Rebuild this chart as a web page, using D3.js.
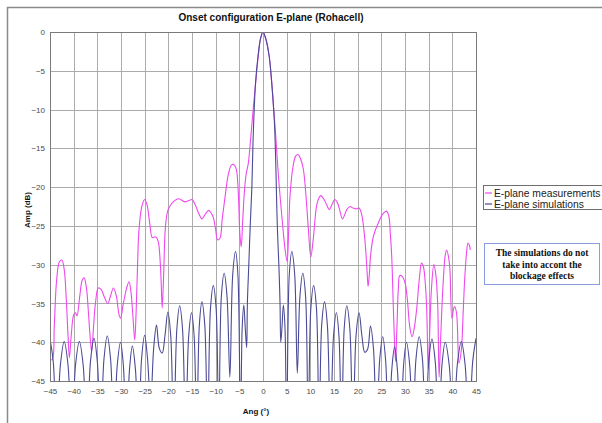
<!DOCTYPE html>
<html>
<head>
<meta charset="utf-8">
<script src="https://cdn.jsdelivr.net/npm/d3@7"></script>
<style>
  html, body { margin: 0; padding: 0; background: #fff; }
  svg { display: block; font-family: "Liberation Sans", Arial, sans-serif; }
</style>
</head>
<body>
<svg id="chart" width="602" height="423"></svg>
<script>
// Angle ticks (degrees) and amplitude ticks (dB)
const xTicks = [-45, -40, -35, -30, -25, -20, -15, -10, -5, 0, 5, 10, 15, 20, 25, 30, 35, 40, 45];
const yTicks = [0, -5, -10, -15, -20, -25, -30, -35, -40, -45];

// E-plane measurements: [angle (deg), amplitude (dB)]
const measurements = [
  [-45.0, -42.3], [-44.5, -42.2], [-44.1, -38], [-43.6, -32], [-43.0, -29.6], [-42.5, -29.4],
  [-42.0, -30.6], [-41.6, -34], [-41.2, -39], [-40.9, -42.0], [-40.5, -39], [-40.0, -36.5],
  [-39.6, -36.2], [-39.3, -36.6], [-38.7, -34], [-38.2, -32], [-37.8, -31.7], [-37.3, -33],
  [-36.9, -36], [-36.5, -39.5], [-36.2, -41.2], [-35.8, -38], [-35.4, -35], [-34.8, -33.0],
  [-34.2, -33.2], [-33.5, -34.2], [-32.8, -35.0], [-32.2, -34], [-31.6, -33.0], [-31.0, -34],
  [-30.4, -36.5], [-30.1, -36.9], [-29.5, -35], [-28.8, -33], [-28.3, -32.2], [-27.9, -33.5],
  [-27.5, -36.5], [-27.1, -39.7], [-26.8, -36], [-26.5, -30], [-26.2, -25.5], [-25.6, -22.5],
  [-25.0, -21.6], [-24.5, -22.3], [-23.9, -24.8], [-23.4, -26.5], [-22.9, -26.4], [-22.5, -26.5],
  [-22.1, -27.1], [-21.7, -29.8], [-21.5, -32.5], [-21.3, -35.6], [-21.0, -31.5], [-20.6, -25],
  [-20.1, -23.0], [-19.5, -22.3], [-18.8, -21.8], [-17.8, -21.5], [-16.5, -21.9], [-15.5, -21.7],
  [-15.0, -21.6], [-14.3, -22.3], [-13.5, -23.5], [-12.9, -24.1], [-12.2, -23.5], [-11.5, -23.0],
  [-11.0, -23.3], [-10.5, -23.9], [-10.0, -25.5], [-9.6, -26.8], [-9.1, -26.6], [-8.6, -24],
  [-8.0, -21.2], [-7.3, -18.3], [-6.6, -17.1], [-6.0, -17.2], [-5.6, -17.8], [-5.2, -21],
  [-4.9, -25.9], [-4.6, -27.7], [-4.3, -24.5], [-4.0, -21.2], [-3.6, -18.5], [-3.1, -16.9],
  [-2.5, -13.0], [-2.0, -9.5], [-1.5, -6.2], [-1.0, -3.1], [-0.5, -0.8], [0, 0],
  [0.6, -0.9], [1.3, -3.1], [1.8, -6.2], [2.3, -10.3], [2.6, -12.6], [3.3, -18.9],
  [3.8, -22.5], [4.3, -25.9], [4.7, -28.2], [5.1, -29.6], [5.4, -26], [5.7, -21.2],
  [6.3, -17.5], [6.9, -16.0], [7.4, -15.8], [7.9, -16.3], [8.5, -17.6], [9.0, -20.5],
  [9.55, -25.1], [10.1, -29.0], [10.6, -26.8], [11.3, -22.5], [11.8, -21.4], [12.2, -21.1],
  [12.7, -21.4], [13.4, -22.2], [14.0, -22.9], [14.6, -22.2], [15.2, -21.6], [15.7, -22.0],
  [16.1, -22.7], [16.8, -24.1], [17.3, -23.5], [17.7, -22.9], [18.4, -22.5], [19.0, -22.7],
  [19.6, -22.8], [20.3, -22.7], [20.7, -23.2], [21.0, -24.0], [21.4, -26], [21.7, -28.1],
  [22.0, -31], [22.2, -32.8], [22.5, -31], [22.7, -29.0], [23.3, -26.4], [24.3, -24.7],
  [25.4, -23.4], [26.1, -23.1], [26.6, -23.8], [26.9, -26], [27.2, -29.0], [27.6, -36.7],
  [28.0, -42.5], [28.3, -38], [28.6, -33], [28.9, -31.4], [29.4, -31.5], [30.0, -32.3],
  [30.5, -34.5], [31.0, -38.0], [31.5, -39.3], [32.0, -38], [32.5, -35.5], [33.0, -32],
  [33.5, -29.8], [33.9, -30.3], [34.3, -32.5], [34.6, -36], [34.9, -43.5], [35.2, -39],
  [35.6, -33], [36.1, -30.0], [36.5, -31.2], [36.9, -35], [37.2, -44.5], [37.5, -40],
  [38.0, -33], [38.5, -28.8], [38.8, -28.1], [39.2, -29], [39.5, -30.7], [39.9, -36.9],
  [40.3, -35.6], [40.5, -35.4], [40.9, -36.3], [41.4, -42.7], [41.9, -41.0], [42.3, -36],
  [42.6, -32.0], [43.0, -28.5], [43.3, -27.2], [43.6, -27.5], [43.8, -28.1]
];

// E-plane simulations: [angle (deg), amplitude (dB)]; nulls fall below the -45 dB floor
const simulations = [
  [-45, -39.6], [-44.3, -42.6], [-43.6, -52],
  [-42.8, -42.9], [-42.0, -39.9], [-41.2, -42.9], [-40.4, -52],
  [-39.6, -42.9], [-38.8, -39.9], [-38.0, -42.9], [-37.2, -52],
  [-36.45, -42.5], [-35.7, -39.5], [-35.0, -42.5], [-34.3, -52],
  [-33.6, -42.2], [-32.9, -39.2], [-32.2, -42.2], [-31.5, -52],
  [-30.8, -43.0], [-30.1, -40.0], [-29.5, -43.0], [-28.85, -52],
  [-28.2, -43.5], [-27.6, -40.5], [-26.95, -43.5], [-26.3, -52],
  [-25.65, -42.1], [-25.0, -39.1], [-24.4, -42.1], [-23.75, -48],
  [-23.1, -40.8], [-22.5, -37.8], [-21.9, -40.8], [-21.3, -41.4],
  [-20.7, -39.1], [-20.1, -36.1], [-19.5, -39.1], [-18.85, -52],
  [-18.2, -38.3], [-17.6, -35.3], [-17.0, -38.3], [-16.35, -52],
  [-15.7, -39.2], [-15.1, -36.2], [-14.55, -39.2], [-14.0, -52],
  [-13.45, -37.8], [-12.9, -34.8], [-12.3, -37.8], [-11.7, -52],
  [-11.1, -35.7], [-10.5, -32.7], [-9.9, -35.7], [-9.35, -52],
  [-8.8, -34.1], [-8.2, -31.1], [-7.6, -34.1], [-7.0, -44.5],
  [-6.4, -31.3], [-5.8, -28.3], [-5.3, -31.3], [-4.75, -52],
  [-4.4, -38.2], [-4.05, -35.2], [-3.75, -38.2], [-3.45, -40.7],
  [-3.3, -35], [-3.0, -30], [-2.7, -25], [-2.35, -20], [-2.1, -14],
  [-1.6, -6.8], [-1.05, -3.1], [-0.5, -0.8], [0, 0], [0.6, -0.9],
  [1.3, -3.1], [1.8, -6.2], [2.4, -11.5], [2.7, -17], [2.85, -21],
  [3.05, -25.5], [3.35, -30], [3.6, -35], [3.75, -40.0],
  [4.0, -38.2], [4.3, -35.2], [4.65, -38.2], [5.0, -52],
  [5.55, -31.3], [6.1, -28.3], [6.7, -31.3], [7.25, -44],
  [7.8, -34.1], [8.4, -31.1], [9.0, -34.1], [9.55, -52],
  [10.1, -35.7], [10.7, -32.7], [11.3, -35.7], [11.85, -52],
  [12.4, -37.8], [13.0, -34.8], [13.6, -37.8], [14.25, -52],
  [14.9, -39.2], [15.5, -36.2], [16.05, -39.2], [16.6, -52],
  [17.15, -38.3], [17.7, -35.3], [18.35, -38.3], [19.0, -52],
  [19.65, -39.2], [20.3, -36.2], [20.9, -39.2], [21.5, -41.3],
  [22.1, -40.9], [22.7, -37.9], [23.35, -40.9], [24.0, -52],
  [24.65, -42.3], [25.3, -39.3], [25.9, -42.3], [26.55, -52],
  [27.2, -43.6], [27.8, -40.6], [28.4, -43.6], [29.05, -52],
  [29.7, -43.0], [30.3, -40.0], [31.0, -43.0], [31.65, -52],
  [32.3, -42.3], [33.0, -39.3], [33.7, -42.3], [34.35, -52],
  [35.0, -42.6], [35.7, -39.6], [36.4, -42.6], [37.1, -52],
  [37.8, -43.0], [38.5, -40.0], [39.35, -43.0], [40.2, -52],
  [41.05, -42.9], [41.9, -39.9], [42.7, -42.9], [43.5, -52],
  [44.3, -42.5], [45, -39.5]
];

const seriesNames = ["E-plane measurements", "E-plane simulations"];
const seriesColors = ["#ee48ee", "#4a4a96"];
const noteLines = ["The simulations do not", "take into accont the", "blockage effects"];

const svg = d3.select("#chart");
const W = 602, H = 423;
const plot = { left: 50, right: 476, top: 32, bottom: 381 };

// Outer chart border (left and top edges visible)
svg.append("path")
  .attr("d", `M7.5,${H} L7.5,7.5 L${W},7.5`)
  .attr("fill", "none").attr("stroke", "#8a8a8a").attr("stroke-width", 1.5);

const x = d3.scaleLinear().domain([-45, 45]).range([plot.left, plot.right]);
const y = d3.scaleLinear().domain([-45, 0]).range([plot.bottom, plot.top]);

// Grid
const grid = svg.append("g").attr("stroke", "#ababab").attr("stroke-width", 1);
grid.selectAll("line.v").data(xTicks).join("line")
  .attr("x1", d => Math.round(x(d)) + 0.5).attr("x2", d => Math.round(x(d)) + 0.5)
  .attr("y1", plot.top).attr("y2", plot.bottom);
grid.selectAll("line.h").data(yTicks).join("line")
  .attr("x1", plot.left).attr("x2", plot.right)
  .attr("y1", d => Math.round(y(d)) + 0.5).attr("y2", d => Math.round(y(d)) + 0.5);

// Axes (labels only)
const yAxis = svg.append("g").attr("transform", `translate(${plot.left - 3},0)`)
  .call(d3.axisLeft(y).tickValues(yTicks).tickSize(0).tickPadding(2).tickFormat(d3.format("d")));
const xAxis = svg.append("g").attr("transform", `translate(0,${plot.bottom + 4})`)
  .call(d3.axisBottom(x).tickValues(xTicks).tickSize(0).tickPadding(3).tickFormat(d3.format("d")));
[xAxis, yAxis].forEach(a => {
  a.select(".domain").remove();
  a.selectAll("text").attr("fill", "#4a4a4a").style("font-size", "8px")
    .style("font-family", "\"Liberation Sans\", Arial, sans-serif");
});

// Clip the curves to the plot area
svg.append("clipPath").attr("id", "plotClip").append("rect")
  .attr("x", plot.left).attr("y", plot.top)
  .attr("width", plot.right - plot.left).attr("height", plot.bottom - plot.top);

const line = d3.line().x(d => x(d[0])).y(d => y(d[1])).curve(d3.curveCatmullRom.alpha(0.5));
const curves = svg.append("g").attr("clip-path", "url(#plotClip)");
curves.append("path").datum(measurements)
  .attr("d", line).attr("fill", "none").attr("stroke", seriesColors[0]).attr("stroke-width", 1.1);
curves.append("path").datum(simulations)
  .attr("d", line).attr("fill", "none").attr("stroke", seriesColors[1]).attr("stroke-width", 1.1);

// Plot frame
svg.append("rect")
  .attr("x", plot.left + 0.5).attr("y", plot.top + 0.5)
  .attr("width", plot.right - plot.left).attr("height", plot.bottom - plot.top)
  .attr("fill", "none").attr("stroke", "#7a7a7a").attr("stroke-width", 1);

// Title and axis titles
svg.append("text").attr("x", 271).attr("y", 21).attr("text-anchor", "middle")
  .style("font-size", "10px").style("font-weight", "bold").attr("fill", "#111")
  .text("Onset configuration E-plane (Rohacell)");
svg.append("text").attr("transform", "translate(30,210) rotate(-90)").attr("text-anchor", "middle")
  .style("font-size", "8px").style("font-weight", "bold").attr("fill", "#111")
  .text("Amp (dB)");
svg.append("text").attr("x", 256).attr("y", 414).attr("text-anchor", "middle")
  .style("font-size", "8px").style("font-weight", "bold").attr("fill", "#111")
  .text("Ang (°)");

// Legend
const legend = svg.append("g");
legend.append("rect").attr("x", 483.5).attr("y", 185.5).attr("width", 130).attr("height", 24)
  .attr("fill", "#fff").attr("stroke", "#6e6e6e").attr("stroke-width", 1);
seriesNames.forEach((name, i) => {
  const ly = 193 + i * 11;
  legend.append("line").attr("x1", 485).attr("x2", 492).attr("y1", ly).attr("y2", ly)
    .attr("stroke", seriesColors[i]).attr("stroke-width", 1.2);
  legend.append("text").attr("x", 494).attr("y", ly + 3.6)
    .style("font-size", "10.3px").attr("fill", "#222").text(name);
});

// Note box
const note = svg.append("g");
note.append("rect").attr("x", 484.5).attr("y", 243.5).attr("width", 115).attr("height", 41)
  .attr("fill", "#fff").attr("stroke", "#8c9ce0").attr("stroke-width", 1);
noteLines.forEach((t, i) => {
  note.append("text").attr("x", 542).attr("y", 256 + i * 11.5).attr("text-anchor", "middle")
    .style("font-family", "\"Liberation Serif\", \"Times New Roman\", serif")
    .style("font-size", "9.5px").style("font-weight", "bold").attr("fill", "#111").text(t);
});
</script>
</body>
</html>
